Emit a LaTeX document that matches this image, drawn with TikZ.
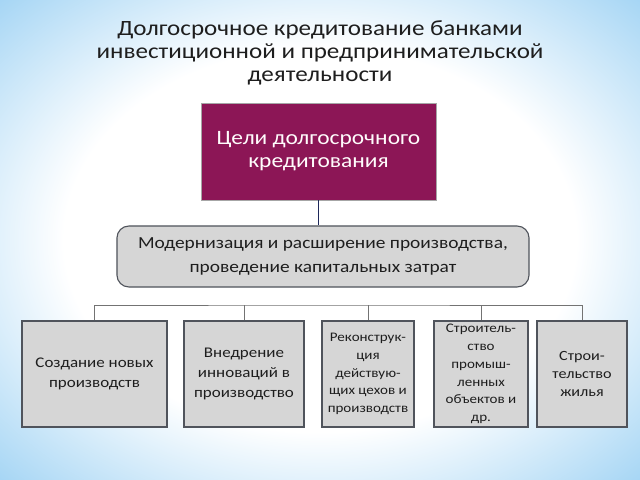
\documentclass[tikz,border=0pt]{standalone}
\usepackage{fontspec}
\setmainfont{Carlito}[FakeStretch=1.15]
\definecolor{bgblue}{RGB}{128,196,240}
\definecolor{goalred}{RGB}{140,22,86}
\definecolor{boxgray}{RGB}{214,214,214}
\definecolor{edgegray}{RGB}{80,84,92}
\definecolor{linkblue}{RGB}{30,40,90}
\definecolor{textdark}{RGB}{30,30,30}
\pgfdeclareradialshading{bgshade}{\pgfpoint{0bp}{0bp}}{color(0bp)=(white); color(20bp)=(white); color(42bp)=(bgblue); color(50bp)=(bgblue)}
\begin{document}
\begin{tikzpicture}[
    x=0.025cm, y=-0.025cm,
    goal/.style={rectangle, draw=gray!70, fill=goalred, text=white!95!pink, minimum width=5.875cm, minimum height=2.425cm, align=center, font=\fontsize{14.5}{16.3}\selectfont},
    modern/.style={rectangle, draw=edgegray, thick, fill=boxgray, text=textdark, minimum width=10.3cm, minimum height=1.525cm, align=center, rounded corners=0.3cm, font=\fontsize{12}{17.7}\selectfont},
    item/.style={rectangle, draw=edgegray, thick, fill=boxgray, text=textdark, minimum height=2.65cm, align=center, inner sep=1pt, font=\fontsize{10.5}{14.2}\selectfont},
    small/.style={font=\fontsize{9.3}{12.6}\selectfont},
    link/.style={draw=linkblue, line width=1.4pt},
    branch/.style={draw=gray!90!black, line width=0.6pt}
]

% Background
\shade[shading=bgshade] (0,0) rectangle (640,480);

% Title
\node[align=center, text=textdark, font=\fontsize{15.5}{16.3}\selectfont] (title) at (320,53) {Долгосрочное кредитование банками\\инвестиционной и предпринимательской\\деятельности};

% Goal and main direction
\node[goal] (goal) at (318.5,151.5) {Цели долгосрочного\\кредитования};
\node[modern] (modern) at (323,256.5) {Модернизация и расширение производства,\\проведение капитальных затрат};

\draw[link] (goal.south) -- (goal.south |- modern.north);

% Directions
\node[item, minimum width=3.625cm] (newprod) at (94.5,374) {Создание новых\\производств};
\node[item, minimum width=3cm] (innov) at (244,374) {Внедрение\\инноваций в\\производство};
\node[item, small, minimum width=2.3cm] (rebuild) at (368,374) {Реконструк-\\ция\\действую-\\щих цехов и\\производств};
\node[item, small, minimum width=2.35cm] (industry) at (481,374) {Строитель-\\ство\\промыш-\\ленных\\объектов и\\др.};
\node[item, minimum width=2.25cm, font=\fontsize{10}{12.5}\selectfont] (housing) at (582,374) {Строи-\\тельство\\жилья};

% Branches
\coordinate (bus) at (320,305);
\draw[branch] (newprod.north) |- (bus) -| (housing.north);
\draw[branch] (innov.north) -- (innov.north |- bus);
\draw[branch] (rebuild.north) -- (rebuild.north |- bus);
\draw[branch] (industry.north) -- (industry.north |- bus);

\end{tikzpicture}
\end{document}
